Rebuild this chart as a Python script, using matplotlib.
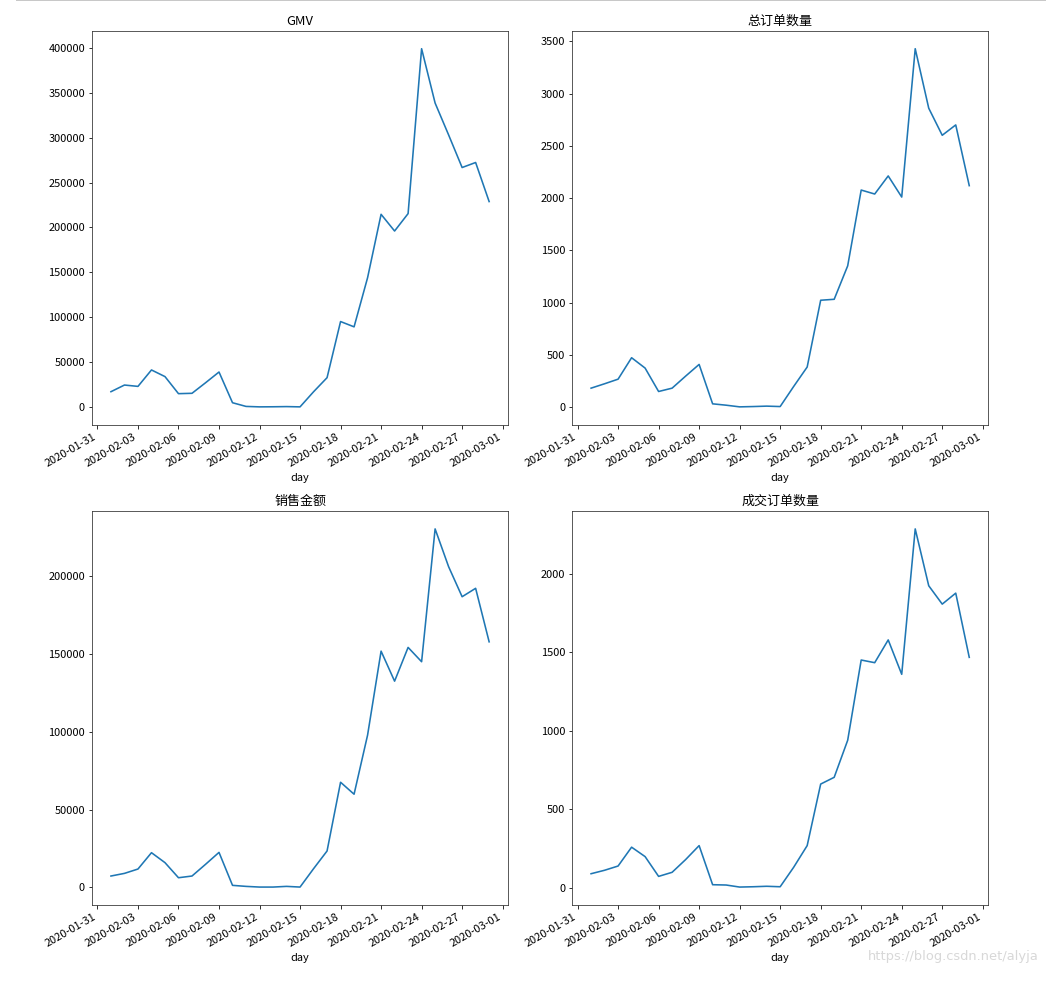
import matplotlib
matplotlib.use('Agg')
import matplotlib.pyplot as plt
import matplotlib.dates as mdates
import pandas as pd
from matplotlib.lines import Line2D

plt.rcParams['font.family'] = ['Noto Sans CJK SC', 'DejaVu Sans']
plt.rcParams['font.size'] = 11
plt.rcParams['axes.unicode_minus'] = False

# dados diarios de fevereiro 2020
days = pd.date_range('2020-02-01', '2020-02-29', freq='D')

gmv = [17100, 24500, 23000, 41300, 33900, 14900, 15300, 27000, 39000, 4800,
       700, 200, 300, 500, 200, 17000, 32700, 95200, 89300, 144000,
       214600, 196000, 215400, 399000, 338500, 303000, 266700, 272300, 228800]

total_orders = [182, 224, 268, 473, 374, 150, 182, 297, 409, 32,
                19, 3, 6, 10, 6, 198, 384, 1023, 1032, 1352,
                2077, 2039, 2212, 2010, 3429, 2860, 2601, 2700, 2119]

sales = [7300, 9000, 11800, 22300, 15900, 6200, 7300, 14800, 22500, 1300,
         640, 200, 200, 640, 200, 12000, 23400, 67600, 59900, 97900,
         151900, 132600, 154300, 145100, 230500, 206200, 186900, 192300, 157900]

paid_orders = [89, 111, 138, 258, 198, 72, 98, 179, 268, 19,
               17, 4, 6, 9, 6, 130, 268, 660, 703, 939,
               1450, 1433, 1578, 1359, 2285, 1923, 1806, 1876, 1467]

titles = ['GMV', '总订单数量', '销售金额', '成交订单数量']
series = [gmv, total_orders, sales, paid_orders]

fig = plt.figure(figsize=(1046 / 72, 981 / 72), dpi=72)

# posicoes dos eixos medidas na imagem
lefts = [0.088, 0.547, 0.088, 0.547]
bottoms = [0.567, 0.567, 0.0775, 0.0775]
w, h = 0.3977, 0.4016

tick_days = pd.date_range('2020-01-31', '2020-03-01', freq='3D')

for i in range(4):
    ax = fig.add_axes([lefts[i], bottoms[i], w, h])
    ax.plot(days, series[i], color='#1f77b4', linewidth=1.6)
    ax.set_title(titles[i], fontsize=13)
    ax.set_xlabel('day', fontsize=11)
    ax.set_xticks(tick_days)
    ax.xaxis.set_major_formatter(mdates.DateFormatter('%Y-%m-%d'))
    for lab in ax.get_xticklabels():
        lab.set_rotation(30)
        lab.set_ha('right')
    ax.tick_params(labelsize=11)
    for sp in ax.spines.values():
        sp.set_color('#333333')

# linha cinza no topo (borda do notebook)
fig.add_artist(Line2D([0.016, 1.0], [0.9995, 0.9995], transform=fig.transFigure,
                      color='#c8c8c8', linewidth=2))

# marca d'agua
fig.text(0.993, 0.018, 'https://blog.csdn.net/alyja', ha='right', va='bottom',
         fontsize=13, color='#d8d8d8', family=['DejaVu Sans'])

fig.savefig('out.png', dpi=72)
